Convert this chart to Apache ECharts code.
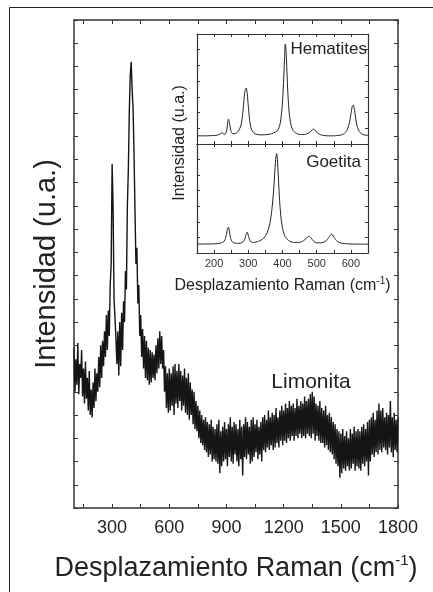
<!DOCTYPE html>
<html><head><meta charset="utf-8">
<script src="https://cdn.jsdelivr.net/npm/echarts@6/dist/echarts.min.js"></script>
<style>html,body{margin:0;padding:0;background:#fff}#c{width:433px;height:592px}</style>
</head><body><div id="c"></div>
<script>
// ---- Main spectrum: Limonita (Raman shift cm-1 / intensity a.u.) ----
const limonitaShift = [
 100,105,110,115,120,125,130,135,140,145, 150,155,160,165,170,175,180,185,190,195,
 200,205,210,215,220,225,230,235,240,245, 250,255,260,265,270,275,280,285,290,295,
 300,305,310,315,320,325,330,335,340,345, 350,355,360,365,370,375,380,385,390,395,
 400,405,410,415,420,425,430,435,440,445, 450,455,460,465,470,475,480,485,490,495,
 500,505,510,515,520,525,530,535,540,545, 550,555,560,565,570,575,580,585,590,595,
 600,605,610,615,620,625,630,635,640,645, 650,655,660,665,670,675,680,685,690,695,
 700,705,710,715,720,725,730,735,740,745, 750,755,760,765,770,775,780,785,790,795,
 800,805,810,815,820,825,830,835,840,845, 850,855,860,865,870,875,880,885,890,895,
 900,905,910,915,920,925,930,935,940,945, 950,955,960,965,970,975,980,985,990,995,
 1000,1005,1010,1015,1020,1025,1030,1035,1040,1045, 1050,1055,1060,1065,1070,1075,1080,1085,1090,1095,
 1100,1105,1110,1115,1120,1125,1130,1135,1140,1145, 1150,1155,1160,1165,1170,1175,1180,1185,1190,1195,
 1200,1205,1210,1215,1220,1225,1230,1235,1240,1245, 1250,1255,1260,1265,1270,1275,1280,1285,1290,1295,
 1300,1305,1310,1315,1320,1325,1330,1335,1340,1345, 1350,1355,1360,1365,1370,1375,1380,1385,1390,1395,
 1400,1405,1410,1415,1420,1425,1430,1435,1440,1445, 1450,1455,1460,1465,1470,1475,1480,1485,1490,1495,
 1500,1505,1510,1515,1520,1525,1530,1535,1540,1545, 1550,1555,1560,1565,1570,1575,1580,1585,1590,1595,
 1600,1605,1610,1615,1620,1625,1630,1635,1640,1645, 1650,1655,1660,1665,1670,1675,1680,1685,1690,1695,
 1700,1705,1710,1715,1720,1725,1730,1735,1740,1745, 1750,1755,1760,1765,1770,1775,1780,1785,1790,1795,
 1800];
const limonitaIntensity = [
 6.9,5.0,6.4,5.3,7.1,4.9,6.2,5.6,6.8,4.8,  6.0,4.5,6.3,4.7,5.6,4.2,5.9,4.0,5.1,3.9,
 5.4,4.3,6.0,4.6,5.8,5.0,6.5,5.2,7.0,5.6,  7.2,6.1,7.6,6.5,8.3,6.8,8.5,7.4,9.6,10.5,
 14.8,13.0,9.0,8.2,7.3,6.2,7.6,5.7,8.0,6.1, 8.4,6.8,8.9,8.0,10.2,9.4,13.0,14.5,17.0,18.6,
 19.2,18.0,17.2,15.2,12.8,10.5,11.2,8.8,9.6,7.4, 8.3,6.5,7.7,6.0,7.4,5.6,7.2,5.5,6.9,5.3,
 6.8,5.4,6.7,5.6,6.6,5.5,7.0,5.8,7.3,6.0,  7.6,6.2,7.4,6.0,6.8,5.0,6.1,4.3,5.8,4.1,
 6.0,4.2,5.8,4.4,6.1,4.0,6.2,4.5,5.9,4.3,  6.2,4.6,5.9,4.2,5.7,4.4,6.0,4.1,5.6,4.0,
 5.8,3.8,5.4,4.0,5.1,3.6,5.0,3.4,4.6,3.3,  4.4,3.0,4.2,2.8,4.0,2.7,3.8,2.5,3.9,2.4,
 3.7,2.2,3.6,2.3,3.8,2.0,3.5,2.1,3.4,2.0,  3.6,1.9,3.8,1.5,3.3,1.8,3.5,2.0,3.7,2.1,
 3.4,1.8,3.6,2.2,3.9,2.0,3.5,1.9,3.7,2.3,  3.6,2.0,3.4,1.8,3.8,2.1,3.5,1.4,3.6,2.2,
 3.9,2.1,3.7,2.3,3.5,1.9,3.8,2.0,3.9,2.2,  3.6,2.4,3.8,2.1,3.5,2.3,3.7,2.0,3.9,2.5,
 4.0,2.4,3.8,2.6,4.2,2.5,3.9,2.7,4.1,2.5,  4.0,2.6,4.3,2.8,3.9,2.6,4.2,2.9,4.4,2.7,
 4.2,2.9,4.5,2.8,4.3,3.0,4.6,2.9,4.4,3.1,  4.5,2.9,4.3,3.1,4.7,3.0,4.4,3.2,4.6,3.0,
 4.5,3.1,4.8,3.0,4.6,3.2,4.7,3.1,4.9,3.0,  5.0,3.2,4.8,2.9,4.5,3.1,4.4,2.9,4.6,2.8,
 4.3,2.8,4.2,2.6,4.4,2.7,4.0,2.5,4.1,2.4,  3.9,2.3,3.7,2.1,3.6,1.9,3.4,1.8,3.3,1.3,
 3.2,1.5,3.4,1.7,3.1,1.6,3.3,1.8,3.0,1.6,  3.4,1.7,3.2,1.9,3.5,1.6,3.3,1.8,3.4,1.7,
 3.3,1.6,3.5,1.9,3.6,1.8,3.4,2.0,3.7,1.4,  3.8,2.0,3.9,2.3,4.1,2.2,3.8,2.4,4.2,2.3,
 4.5,2.5,4.2,2.4,4.3,2.6,3.9,2.5,4.1,2.3,  4.0,2.6,4.6,2.4,3.9,2.2,4.1,2.5,3.8,2.4,
 3.9];

// ---- Inset: Hematites ----
const hematitesShift = [150,170,190,205,215,220,223,227,232,237,240,242,245,249,254,262,270,278,283,287,290,294,297,300,304,309,316,326,340,355,368,380,388,394,399,403,406,408,410,413,416,420,425,431,440,452,468,480,486,490,494,500,510,525,545,565,578,588,595,600,604,607,610,614,618,625,635,650];
const hematitesIntensity = [0.52,0.52,0.53,0.55,0.6,0.68,0.74,0.64,0.62,0.9,1.4,1.58,1.35,0.85,0.66,0.66,0.8,1.15,1.8,2.7,3.35,3.56,3.2,2.4,1.5,0.95,0.7,0.6,0.58,0.6,0.66,0.76,0.95,1.4,2.4,3.9,5.4,6.36,6.1,4.6,3.1,1.9,1.2,0.85,0.68,0.6,0.62,0.75,0.88,0.95,0.9,0.75,0.6,0.53,0.52,0.55,0.63,0.85,1.3,1.9,2.4,2.48,2.25,1.65,1.15,0.78,0.6,0.55];

// ---- Inset: Goetita ----
const goetitaShift = [150,180,210,225,232,236,239,242,245,249,255,265,280,288,293,297,301,306,315,330,345,355,363,369,374,378,381,383,385,388,392,396,401,408,418,432,450,462,470,477,483,490,500,515,528,537,543,546,551,560,575,600,625,650];
const goetitaIntensity = [0.57,0.58,0.6,0.68,0.85,1.2,1.55,1.65,1.35,0.9,0.68,0.62,0.65,0.8,1.15,1.33,1.05,0.75,0.68,0.75,0.95,1.3,1.9,2.8,4.0,5.4,6.2,6.38,6.0,4.8,3.2,2.2,1.5,1.05,0.8,0.68,0.68,0.8,0.95,1.08,0.98,0.78,0.65,0.66,0.8,1.05,1.2,1.18,1.0,0.75,0.62,0.58,0.57,0.57];

// ---- Tick values ----
const mainTicks = [150,300,450,600,750,900,1050,1200,1350,1500,1650,1800];
const mainTickLabels = [300,600,900,1200,1500,1800];

const FONT = '"Liberation Sans", Arial, sans-serif';
const AX = '#333';
const TXT = '#222';

const chart = echarts.init(document.getElementById('c'), null, {renderer: 'canvas'});

function pairs(xs, ys) { return xs.map((x, i) => [x, ys[i]]); }

function mainX(pos, showLabel) {
  return {
    gridIndex: 0, type: 'value', position: pos, min: 100, max: 1800,
    axisLine: {show: true, onZero: false, lineStyle: {color: AX, width: 1.5}},
    axisTick: {show: true, inside: true, length: 4, customValues: mainTicks, lineStyle: {color: AX, width: 1}},
    axisLabel: {show: showLabel, customValues: mainTickLabels, fontSize: 18, color: TXT, fontFamily: FONT, margin: 11,
      formatter: v => String(v)},
    splitLine: {show: false}
  };
}
function mainY(pos) {
  return {
    gridIndex: 0, type: 'value', position: pos, min: 0, max: 21, interval: 1,
    axisLine: {show: true, onZero: false, lineStyle: {color: AX, width: 1.5}},
    axisTick: {show: true, inside: true, length: 4, lineStyle: {color: AX, width: 1}},
    axisLabel: {show: false}, splitLine: {show: false}
  };
}
function insetX(grid, pos, showLabel) {
  return {
    gridIndex: grid, type: 'value', position: pos, min: 150, max: 650, interval: 50,
    axisLine: {show: true, onZero: false, lineStyle: {color: AX, width: 1.2}},
    axisTick: {show: true, inside: true, length: 3, lineStyle: {color: AX, width: 1}},
    axisLabel: {show: showLabel, fontSize: 11, color: '#333', fontFamily: FONT, margin: 5,
      formatter: v => (v % 100 === 0 ? String(v) : '')},
    splitLine: {show: false}
  };
}
function insetY(grid, pos) {
  return {
    gridIndex: grid, type: 'value', position: pos, min: 0, max: 7, interval: 1,
    axisLine: {show: true, onZero: false, lineStyle: {color: AX, width: 1.2}},
    axisTick: {show: true, inside: true, length: 3, lineStyle: {color: AX, width: 1}},
    axisLabel: {show: false}, splitLine: {show: false}
  };
}

const xMainBottom = mainX('bottom', true);
xMainBottom.name = '{a|Desplazamiento Raman (cm}{s|-1}{a|)}';
xMainBottom.nameLocation = 'middle';
xMainBottom.nameGap = 45;
xMainBottom.nameTextStyle = {
  rich: {
    a: {fontSize: 27, fontFamily: FONT, color: TXT, lineHeight: 31},
    s: {fontSize: 15, fontFamily: FONT, color: TXT, verticalAlign: 'top', lineHeight: 15}
  }
};

const xInsetBottom = insetX(2, 'bottom', true);
xInsetBottom.name = '{a|Desplazamiento Raman (cm}{s|-1}{a|)}';
xInsetBottom.nameLocation = 'middle';
xInsetBottom.nameGap = 23;
xInsetBottom.nameTextStyle = {
  rich: {
    a: {fontSize: 16, fontFamily: FONT, color: TXT, lineHeight: 19},
    s: {fontSize: 10, fontFamily: FONT, color: TXT, verticalAlign: 'top', lineHeight: 10}
  }
};

const option = {
  animation: false,
  backgroundColor: '#fff',
  grid: [
    {left: 74, top: 20, width: 324, height: 488, show: false},
    {left: 197, top: 34, width: 171, height: 110, show: true, backgroundColor: '#fff', borderWidth: 0},
    {left: 197, top: 144, width: 171, height: 109, show: true, backgroundColor: '#fff', borderWidth: 0}
  ],
  xAxis: [
    xMainBottom,
    mainX('top', false),
    insetX(1, 'bottom', false),
    insetX(1, 'top', false),
    xInsetBottom,
    insetX(2, 'top', false)
  ],
  yAxis: [
    mainY('left'), mainY('right'),
    insetY(1, 'left'), insetY(1, 'right'),
    insetY(2, 'left'), insetY(2, 'right')
  ],
  series: [
    {type: 'line', xAxisIndex: 0, yAxisIndex: 0, data: pairs(limonitaShift, limonitaIntensity),
     symbol: 'none', lineStyle: {color: '#151515', width: 1.4}},
    {type: 'line', xAxisIndex: 2, yAxisIndex: 2, data: pairs(hematitesShift, hematitesIntensity),
     symbol: 'none', smooth: 0.25, lineStyle: {color: '#222', width: 1}},
    {type: 'line', xAxisIndex: 4, yAxisIndex: 4, data: pairs(goetitaShift, goetitaIntensity),
     symbol: 'none', smooth: 0.25, lineStyle: {color: '#222', width: 1}}
  ],
  graphic: [
    {type: 'line', shape: {x1: 9.5, y1: 7.5, x2: 433, y2: 7.5}, style: {stroke: '#222', lineWidth: 1}},
    {type: 'line', shape: {x1: 9.5, y1: 7.5, x2: 9.5, y2: 592}, style: {stroke: '#222', lineWidth: 1}},
    {type: 'text', x: 47, y: 264, rotation: Math.PI / 2,
     style: {text: 'Intensidad (u.a.)', font: '29px ' + FONT, fill: TXT,
             textAlign: 'center', textVerticalAlign: 'middle', align: 'center', verticalAlign: 'middle'}},
    {type: 'text', x: 180, y: 143, rotation: Math.PI / 2,
     style: {text: 'Intensidad (u.a.)', font: '16px ' + FONT, fill: TXT,
             textAlign: 'center', textVerticalAlign: 'middle', align: 'center', verticalAlign: 'middle'}},
    {type: 'text', x: 367, y: 49, z: 10,
     style: {text: 'Hematites', font: '17px ' + FONT, fill: TXT,
             textAlign: 'right', textVerticalAlign: 'middle', align: 'right', verticalAlign: 'middle'}},
    {type: 'text', x: 361, y: 162, z: 10,
     style: {text: 'Goetita', font: '17px ' + FONT, fill: TXT,
             textAlign: 'right', textVerticalAlign: 'middle', align: 'right', verticalAlign: 'middle'}},
    {type: 'text', x: 311, y: 382, z: 10,
     style: {text: 'Limonita', font: '21px ' + FONT, fill: TXT,
             textAlign: 'center', textVerticalAlign: 'middle', align: 'center', verticalAlign: 'middle'}}
  ]
};
chart.setOption(option);
</script>
</body></html>
